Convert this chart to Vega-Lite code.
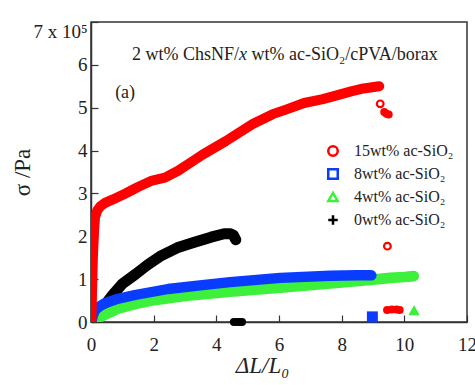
{
  "$schema": "https://vega.github.io/schema/vega-lite/v6.json",
  "width": 376,
  "height": 300,
  "autosize": {"type": "none"},
  "padding": {"left": 91, "top": 22, "right": 8, "bottom": 63},
  "background": "white",
  "config": {
    "view": {"stroke": "#333333", "strokeWidth": 1.5},
    "font": "Liberation Serif"
  },
  "resolve": {"legend": {"color": "independent", "shape": "independent", "strokeWidth": "independent"}},
  "datasets": {
    "curves": [
      {"s": "0wt% ac-SiO₂", "x": 0.02, "y": 0.02},
      {"s": "0wt% ac-SiO₂", "x": 0.2, "y": 0.18},
      {"s": "0wt% ac-SiO₂", "x": 0.45, "y": 0.4},
      {"s": "0wt% ac-SiO₂", "x": 0.7, "y": 0.64},
      {"s": "0wt% ac-SiO₂", "x": 1.0, "y": 0.89},
      {"s": "0wt% ac-SiO₂", "x": 1.43, "y": 1.12},
      {"s": "0wt% ac-SiO₂", "x": 1.8, "y": 1.33},
      {"s": "0wt% ac-SiO₂", "x": 2.2, "y": 1.53},
      {"s": "0wt% ac-SiO₂", "x": 2.75, "y": 1.73},
      {"s": "0wt% ac-SiO₂", "x": 3.3, "y": 1.86},
      {"s": "0wt% ac-SiO₂", "x": 3.83, "y": 1.98},
      {"s": "0wt% ac-SiO₂", "x": 4.25, "y": 2.06},
      {"s": "0wt% ac-SiO₂", "x": 4.45, "y": 2.06},
      {"s": "0wt% ac-SiO₂", "x": 4.55, "y": 2.02},
      {"s": "0wt% ac-SiO₂", "x": 4.62, "y": 1.92},
      {"s": "4wt% ac-SiO₂", "x": 0.02, "y": 0.0},
      {"s": "4wt% ac-SiO₂", "x": 0.13, "y": 0.06},
      {"s": "4wt% ac-SiO₂", "x": 0.3, "y": 0.12},
      {"s": "4wt% ac-SiO₂", "x": 0.45, "y": 0.17},
      {"s": "4wt% ac-SiO₂", "x": 0.86, "y": 0.31},
      {"s": "4wt% ac-SiO₂", "x": 1.4, "y": 0.42},
      {"s": "4wt% ac-SiO₂", "x": 1.95, "y": 0.5},
      {"s": "4wt% ac-SiO₂", "x": 3.0, "y": 0.61},
      {"s": "4wt% ac-SiO₂", "x": 4.44, "y": 0.71},
      {"s": "4wt% ac-SiO₂", "x": 6.04, "y": 0.8},
      {"s": "4wt% ac-SiO₂", "x": 7.64, "y": 0.9},
      {"s": "4wt% ac-SiO₂", "x": 9.0, "y": 0.99},
      {"s": "4wt% ac-SiO₂", "x": 9.55, "y": 1.03},
      {"s": "4wt% ac-SiO₂", "x": 10.0, "y": 1.05},
      {"s": "4wt% ac-SiO₂", "x": 10.3, "y": 1.07},
      {"s": "8wt% ac-SiO₂", "x": 0.02, "y": 0.02},
      {"s": "8wt% ac-SiO₂", "x": 0.06, "y": 0.15},
      {"s": "8wt% ac-SiO₂", "x": 0.13, "y": 0.28},
      {"s": "8wt% ac-SiO₂", "x": 0.3, "y": 0.38},
      {"s": "8wt% ac-SiO₂", "x": 0.45, "y": 0.44},
      {"s": "8wt% ac-SiO₂", "x": 0.8, "y": 0.53},
      {"s": "8wt% ac-SiO₂", "x": 1.4, "y": 0.63},
      {"s": "8wt% ac-SiO₂", "x": 2.46, "y": 0.77},
      {"s": "8wt% ac-SiO₂", "x": 3.55, "y": 0.86},
      {"s": "8wt% ac-SiO₂", "x": 4.44, "y": 0.93},
      {"s": "8wt% ac-SiO₂", "x": 6.04, "y": 1.03},
      {"s": "8wt% ac-SiO₂", "x": 7.64, "y": 1.08},
      {"s": "8wt% ac-SiO₂", "x": 8.5, "y": 1.09},
      {"s": "8wt% ac-SiO₂", "x": 8.95, "y": 1.09},
      {"s": "15wt% ac-SiO₂", "x": 0.01, "y": 0.0},
      {"s": "15wt% ac-SiO₂", "x": 0.02, "y": 0.3},
      {"s": "15wt% ac-SiO₂", "x": 0.03, "y": 0.6},
      {"s": "15wt% ac-SiO₂", "x": 0.04, "y": 0.9},
      {"s": "15wt% ac-SiO₂", "x": 0.05, "y": 1.2},
      {"s": "15wt% ac-SiO₂", "x": 0.06, "y": 1.5},
      {"s": "15wt% ac-SiO₂", "x": 0.08, "y": 1.85},
      {"s": "15wt% ac-SiO₂", "x": 0.1, "y": 2.15},
      {"s": "15wt% ac-SiO₂", "x": 0.13, "y": 2.45},
      {"s": "15wt% ac-SiO₂", "x": 0.2, "y": 2.6},
      {"s": "15wt% ac-SiO₂", "x": 0.3, "y": 2.7},
      {"s": "15wt% ac-SiO₂", "x": 0.45, "y": 2.78},
      {"s": "15wt% ac-SiO₂", "x": 0.7, "y": 2.86},
      {"s": "15wt% ac-SiO₂", "x": 1.1, "y": 3.0},
      {"s": "15wt% ac-SiO₂", "x": 1.5, "y": 3.15},
      {"s": "15wt% ac-SiO₂", "x": 1.95, "y": 3.3},
      {"s": "15wt% ac-SiO₂", "x": 2.36, "y": 3.37},
      {"s": "15wt% ac-SiO₂", "x": 2.78, "y": 3.53},
      {"s": "15wt% ac-SiO₂", "x": 3.2, "y": 3.73},
      {"s": "15wt% ac-SiO₂", "x": 3.55, "y": 3.9},
      {"s": "15wt% ac-SiO₂", "x": 4.3, "y": 4.22},
      {"s": "15wt% ac-SiO₂", "x": 5.16, "y": 4.62},
      {"s": "15wt% ac-SiO₂", "x": 5.8, "y": 4.85},
      {"s": "15wt% ac-SiO₂", "x": 6.2, "y": 4.95},
      {"s": "15wt% ac-SiO₂", "x": 6.8, "y": 5.11},
      {"s": "15wt% ac-SiO₂", "x": 7.4, "y": 5.2},
      {"s": "15wt% ac-SiO₂", "x": 7.9, "y": 5.3},
      {"s": "15wt% ac-SiO₂", "x": 8.3, "y": 5.38},
      {"s": "15wt% ac-SiO₂", "x": 8.7, "y": 5.45},
      {"s": "15wt% ac-SiO₂", "x": 9.2, "y": 5.5}
    ],
    "markers": [
      {"s": "15wt% ac-SiO₂", "x": 9.23, "y": 5.09},
      {"s": "15wt% ac-SiO₂", "x": 9.46, "y": 1.77},
      {"s": "8wt% ac-SiO₂", "x": 8.98, "y": 0.11},
      {"s": "4wt% ac-SiO₂", "x": 10.31, "y": 0.27},
      {"s": "0wt% ac-SiO₂", "x": 4.7, "y": 0.0}
    ],
    "blobs": [
      {"s": "15wt% ac-SiO₂", "x": 9.36, "y": 4.9},
      {"s": "15wt% ac-SiO₂", "x": 9.43, "y": 4.86},
      {"s": "15wt% ac-SiO₂", "x": 9.5, "y": 4.84},
      {"s": "15wt% ac-SiO₂", "x": 9.45, "y": 0.28},
      {"s": "15wt% ac-SiO₂", "x": 9.6, "y": 0.29},
      {"s": "15wt% ac-SiO₂", "x": 9.75, "y": 0.29},
      {"s": "15wt% ac-SiO₂", "x": 9.85, "y": 0.28},
      {"s": "0wt% ac-SiO₂", "x": 4.56, "y": 0.0},
      {"s": "0wt% ac-SiO₂", "x": 4.65, "y": 0.0},
      {"s": "0wt% ac-SiO₂", "x": 4.74, "y": 0.0},
      {"s": "0wt% ac-SiO₂", "x": 4.82, "y": 0.0}
    ],
    "endMarks": [
      {"s": "8wt% ac-SiO₂", "x": 8.98, "y": 0.12},
      {"s": "4wt% ac-SiO₂", "x": 10.31, "y": 0.27}
    ],
    "notes": [
      {"t": "2 wt% ChsNF/", "x": 1.31, "y": 6.22},
      {"t": "wt% ac-SiO₂/cPVA/borax", "x": 5.12, "y": 6.22},
      {"t": "(a)", "x": 0.77, "y": 5.34}
    ],
    "notesItalic": [
      {"t": "x", "x": 4.72, "y": 6.22}
    ]
  },
  "layer": [
    {
      "data": {"name": "curves"},
      "mark": {"type": "line", "strokeCap": "round", "strokeJoin": "round", "clip": true},
      "encoding": {
        "x": {"field": "x", "type": "quantitative", "scale": {"domain": [0, 12], "nice": false},
          "axis": {"values": [0, 2, 4, 6, 8, 10, 12], "tickSize": -7, "labelPadding": 20, "grid": false,
            "labelFlush": false, "labelOverlap": false,
            "domainColor": "#333333", "domainWidth": 1.5, "tickColor": "#333333", "tickWidth": 1.2,
            "labelFont": "Liberation Serif", "labelFontSize": 19, "labelColor": "#222222",
            "title": "ΔL/L₀", "titleFont": "Liberation Serif", "titleFontSize": 23, "titleFontStyle": "italic",
            "titleFontWeight": "normal", "titleColor": "#222222",
            "titleX": 171, "titleY": 50, "titleAlign": "center", "titleBaseline": "alphabetic"}},
        "y": {"field": "y", "type": "quantitative", "scale": {"domain": [0, 7], "nice": false},
          "axis": {"values": [0, 1, 2, 3, 4, 5, 6, 7], "tickSize": -7, "labelPadding": 11, "grid": false,
            "labelFlush": false, "labelOverlap": false,
            "labelExpr": "datum.value == 7 ? '7 x 10⁵' : datum.label",
            "labelBaseline": {"condition": {"test": "datum.value == 7", "value": "top"}, "value": "middle"},
            "domainColor": "#333333", "domainWidth": 1.5, "tickColor": "#333333", "tickWidth": 1.2,
            "labelFont": "Liberation Serif", "labelFontSize": 19, "labelColor": "#222222",
            "title": "σ /Pa", "titleFont": "Liberation Serif", "titleFontSize": 23, "titleFontStyle": "normal",
            "titleFontWeight": "normal", "titleColor": "#222222",
            "titleX": -69, "titleY": 150, "titleAlign": "center", "titleBaseline": "middle", "titleAngle": -90}},
        "color": {"field": "s", "type": "nominal", "legend": null,
          "scale": {"domain": ["15wt% ac-SiO₂", "8wt% ac-SiO₂", "4wt% ac-SiO₂", "0wt% ac-SiO₂"],
            "range": ["#ff0000", "#0a3cff", "#3cf03c", "#000000"]}},
        "strokeWidth": {"field": "s", "type": "nominal", "legend": null,
          "scale": {"domain": ["15wt% ac-SiO₂", "8wt% ac-SiO₂", "4wt% ac-SiO₂", "0wt% ac-SiO₂"],
            "range": [10, 11, 11, 7]}}
      }
    },
    {
      "data": {"name": "blobs"},
      "mark": {"type": "circle", "opacity": 1, "size": 65},
      "encoding": {
        "x": {"field": "x", "type": "quantitative"},
        "y": {"field": "y", "type": "quantitative"},
        "color": {"field": "s", "type": "nominal", "legend": null}
      }
    },
    {
      "data": {"name": "endMarks"},
      "mark": {"type": "point", "filled": true, "opacity": 1, "size": 120},
      "encoding": {
        "x": {"field": "x", "type": "quantitative"},
        "y": {"field": "y", "type": "quantitative"},
        "color": {"field": "s", "type": "nominal", "legend": null},
        "shape": {"field": "s", "type": "nominal", "legend": null}
      }
    },
    {
      "data": {"name": "markers"},
      "mark": {"type": "point", "filled": false, "opacity": 1, "size": 45, "strokeWidth": 2.2},
      "encoding": {
        "x": {"field": "x", "type": "quantitative"},
        "y": {"field": "y", "type": "quantitative"},
        "color": {"field": "s", "type": "nominal",
          "legend": {"orient": "none", "legendX": 234, "legendY": 121, "title": null,
            "labelFont": "Liberation Serif", "labelFontSize": 16, "labelColor": "#222222",
            "symbolSize": 90, "symbolStrokeWidth": 2.5, "rowPadding": 3, "labelOffset": 13}},
        "shape": {"field": "s", "type": "nominal",
          "scale": {"domain": ["15wt% ac-SiO₂", "8wt% ac-SiO₂", "4wt% ac-SiO₂", "0wt% ac-SiO₂"],
            "range": ["circle", "square", "triangle-up", "M-1,0L1,0M0,-1L0,1"]},
          "legend": {"orient": "none", "legendX": 234, "legendY": 121, "title": null,
            "labelFont": "Liberation Serif", "labelFontSize": 16, "labelColor": "#222222",
            "symbolSize": 90, "symbolStrokeWidth": 2.5, "rowPadding": 3, "labelOffset": 13}}
      }
    },
    {
      "data": {"name": "notes"},
      "mark": {"type": "text", "align": "left", "baseline": "middle", "font": "Liberation Serif", "fontSize": 18, "color": "#222222"},
      "encoding": {
        "x": {"field": "x", "type": "quantitative"},
        "y": {"field": "y", "type": "quantitative"},
        "text": {"field": "t"}
      }
    },
    {
      "data": {"name": "notesItalic"},
      "mark": {"type": "text", "align": "left", "baseline": "middle", "font": "Liberation Serif", "fontSize": 18, "fontStyle": "italic", "color": "#222222"},
      "encoding": {
        "x": {"field": "x", "type": "quantitative"},
        "y": {"field": "y", "type": "quantitative"},
        "text": {"field": "t"}
      }
    }
  ]
}
